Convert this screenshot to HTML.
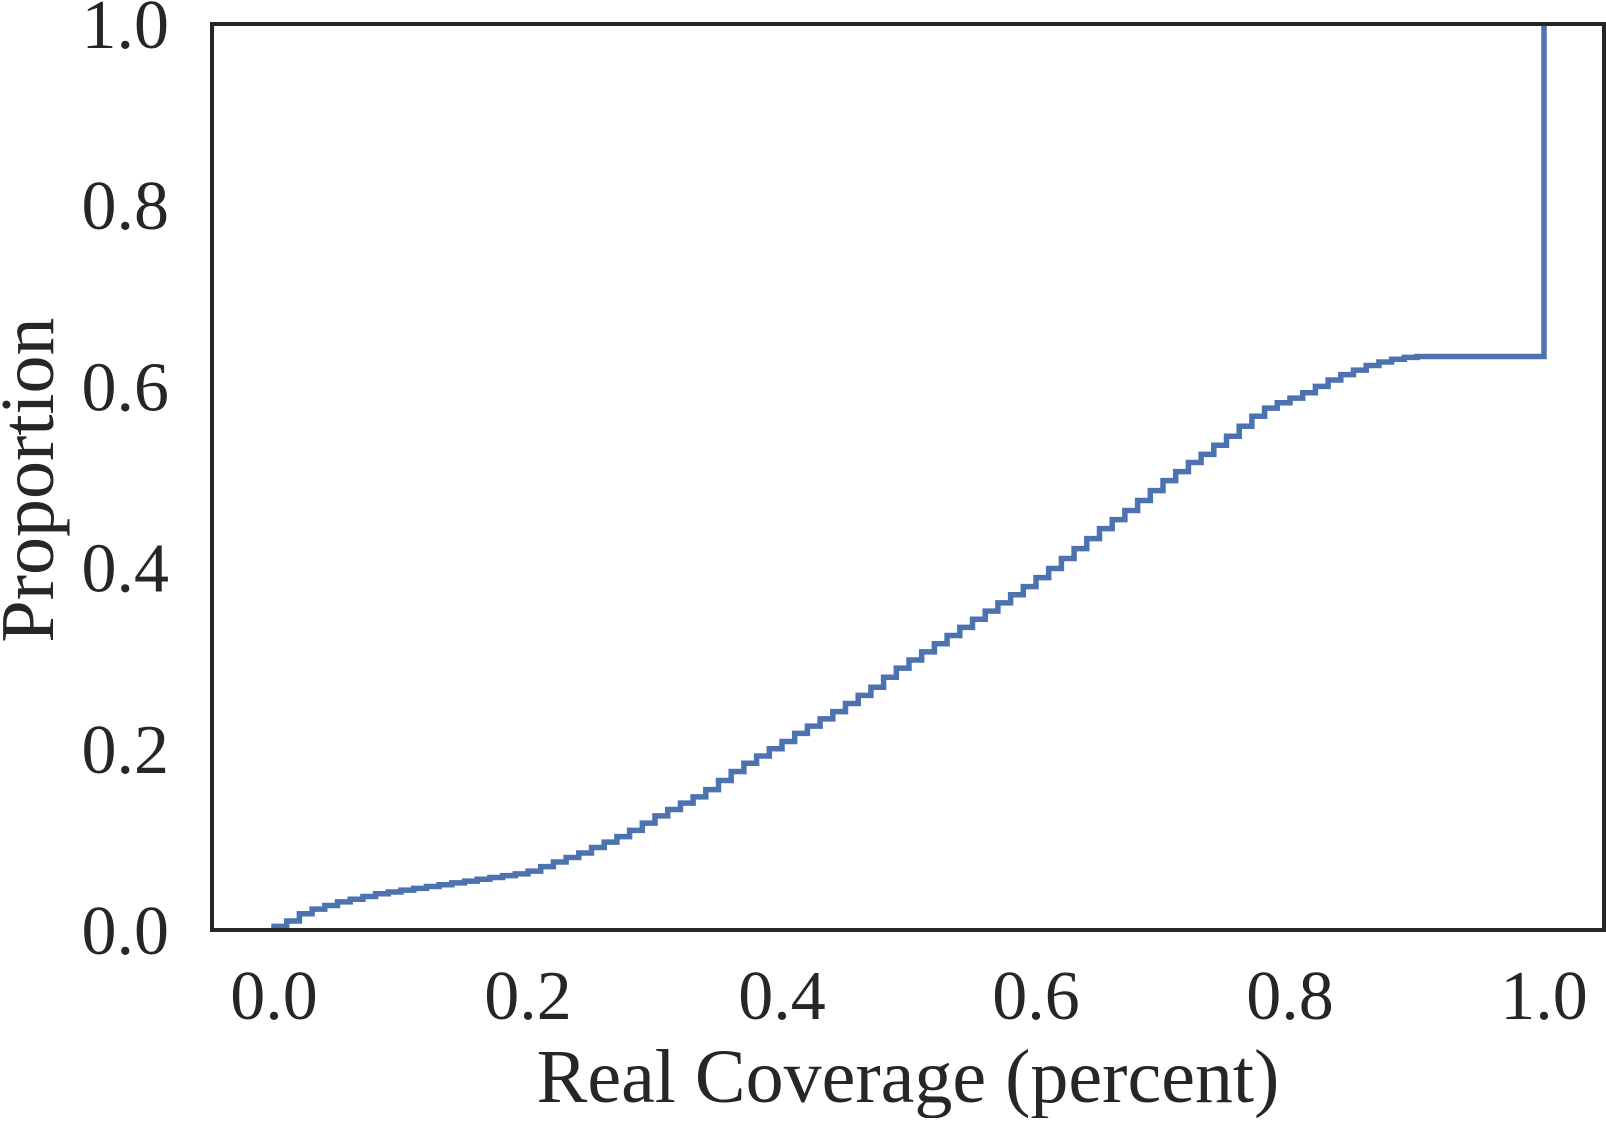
<!DOCTYPE html>
<html><head><meta charset="utf-8"><style>
html,body{margin:0;padding:0;background:#fff;}
svg text{font-family:"Liberation Serif",serif;fill:#262626;}
</style></head><body>
<svg id="chart" width="1606" height="1118" xmlns="http://www.w3.org/2000/svg">
<rect width="1606" height="1118" fill="#fff"/>
<g id="ticks"></g>
<path id="curve" fill="none" stroke="#4c72b0" stroke-width="5.5" stroke-linejoin="miter"/>
<rect x="212" y="24" width="1392" height="906" fill="none" stroke="#262626" stroke-width="4"/>
<text x="908" y="1102" font-size="76" text-anchor="middle">Real Coverage (percent)</text>
<text transform="translate(53,480) rotate(-90)" font-size="76" text-anchor="middle">Proportion</text>
</svg>
<script>
const xTicks=[0,0.2,0.4,0.6,0.8,1.0];
const yTicks=[0,0.2,0.4,0.6,0.8,1.0];
const xs=[0.00,0.01,0.02,0.03,0.04,0.05,0.06,0.07,0.08,0.09,0.10,0.11,0.12,0.13,0.14,0.15,0.16,0.17,0.18,0.19,0.20,0.21,0.22,0.23,0.24,0.25,0.26,0.27,0.28,0.29,0.30,0.31,0.32,0.33,0.34,0.35,0.36,0.37,0.38,0.39,0.40,0.41,0.42,0.43,0.44,0.45,0.46,0.47,0.48,0.49,0.50,0.51,0.52,0.53,0.54,0.55,0.56,0.57,0.58,0.59,0.60,0.61,0.62,0.63,0.64,0.65,0.66,0.67,0.68,0.69,0.70,0.71,0.72,0.73,0.74,0.75,0.76,0.77,0.78,0.79,0.80,0.81,0.82,0.83,0.84,0.85,0.86,0.87,0.88,0.89,0.90,1.00];
const ys=[0.004,0.010,0.018,0.023,0.027,0.031,0.034,0.037,0.040,0.042,0.044,0.046,0.048,0.050,0.052,0.054,0.056,0.058,0.060,0.062,0.065,0.070,0.075,0.080,0.085,0.091,0.097,0.103,0.110,0.118,0.126,0.133,0.140,0.147,0.155,0.165,0.175,0.184,0.192,0.200,0.208,0.217,0.225,0.233,0.241,0.250,0.259,0.268,0.279,0.289,0.298,0.307,0.316,0.325,0.334,0.343,0.352,0.361,0.370,0.379,0.389,0.399,0.410,0.421,0.432,0.443,0.453,0.463,0.474,0.485,0.496,0.506,0.516,0.525,0.535,0.545,0.556,0.567,0.576,0.582,0.587,0.593,0.600,0.607,0.613,0.618,0.623,0.627,0.630,0.632,0.633,1.000];
const X=v=>274+v*1270;
const Y=v=>930-v*906;
let d='M'+X(xs[0])+','+Y(0);
for(let i=0;i<xs.length;i++){
  d+=' L'+X(xs[i])+','+Y(ys[i]);
  if(i<xs.length-1) d+=' L'+X(xs[i+1])+','+Y(ys[i]);
}
document.getElementById('curve').setAttribute('d',d);
const g=document.getElementById('ticks');
const NS='http://www.w3.org/2000/svg';
xTicks.forEach(v=>{
  const t=document.createElementNS(NS,'text');
  
  
  t.setAttribute('x',X(v));t.setAttribute('y',1019);
  t.setAttribute('font-size','70');t.setAttribute('text-anchor','middle');
  t.textContent=v.toFixed(1);g.appendChild(t);
});
yTicks.forEach(v=>{
  const t=document.createElementNS(NS,'text');
  
  
  t.setAttribute('x',169);t.setAttribute('y',Y(v)+24);
  t.setAttribute('font-size','70');t.setAttribute('text-anchor','end');
  t.textContent=v.toFixed(1);g.appendChild(t);
});
</script>
</body></html>
